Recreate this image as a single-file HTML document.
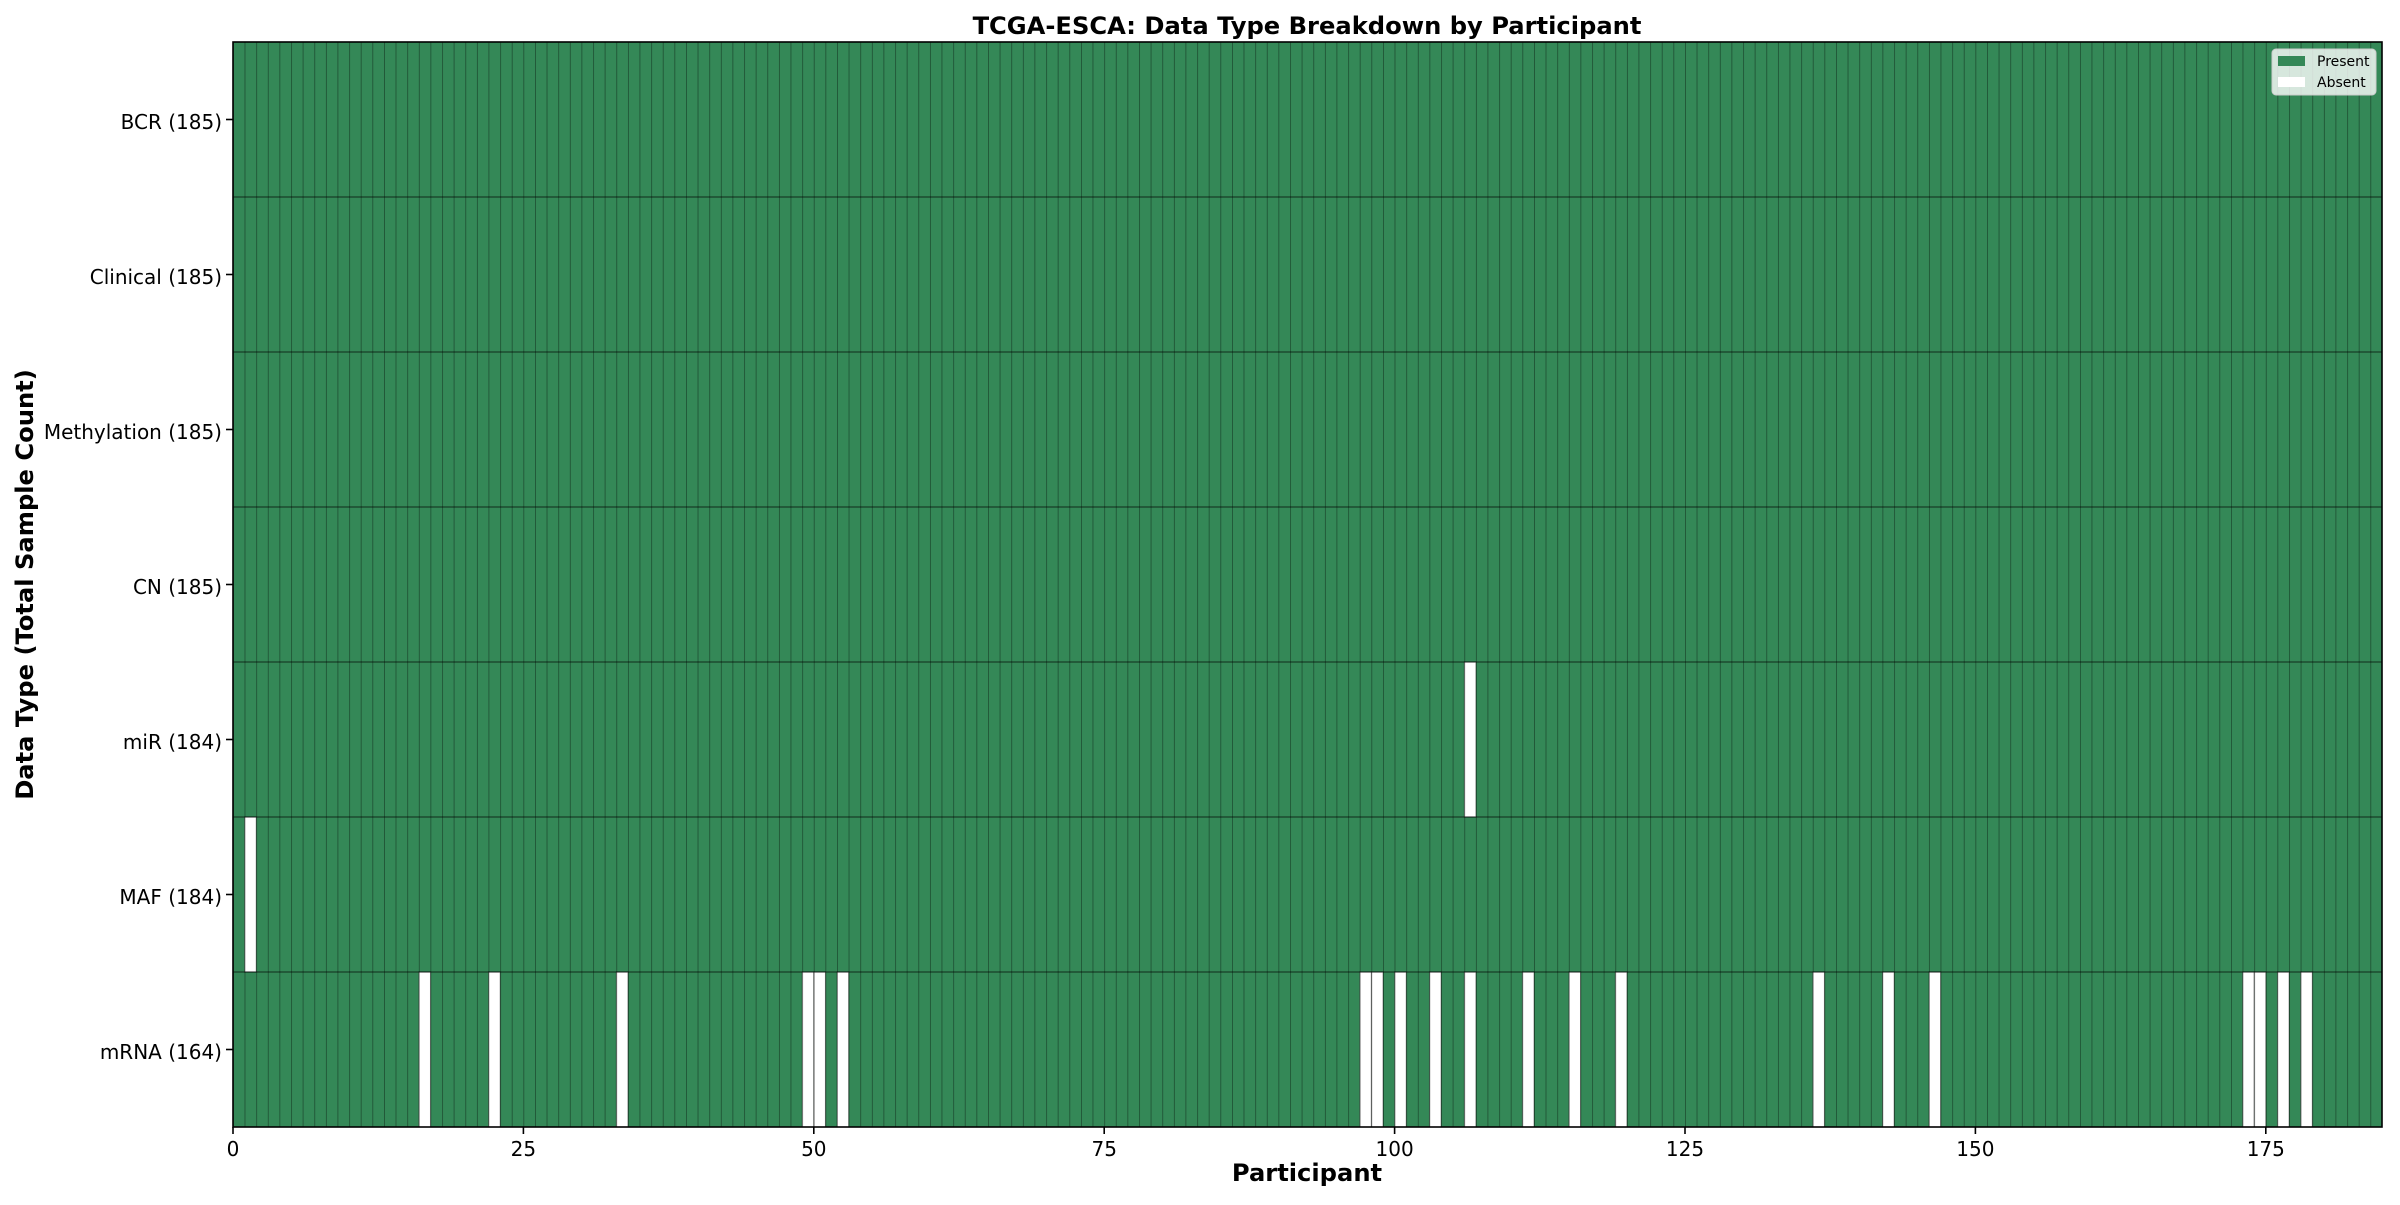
<!DOCTYPE html>
<html><head><meta charset="utf-8"><style>html,body{margin:0;padding:0;background:#fff}</style></head>
<body>
<svg xmlns="http://www.w3.org/2000/svg" width="2400" height="1200" viewBox="0 0 2400 1200" font-family="'DejaVu Sans','Liberation Sans',sans-serif">
<defs>
<pattern id="vl" patternUnits="userSpaceOnUse" x="233" y="0" width="11.6162" height="1200">
<line x1="0" y1="0" x2="0" y2="1200" stroke="rgba(0,0,0,0.45)" stroke-width="1.5"/>
</pattern>
</defs>
<rect x="233" y="42" width="2149" height="1085" fill="#348857"/>
<g fill="#fff" id="abs"></g>
<script>
(function(){
var u=2149/185,h=155,g=document.getElementById('abs');
var d=[[4,106],[5,1]];
[16,22,33,49,50,52,97,98,100,103,106,111,115,119,136,142,146,173,174,176,178].forEach(function(i){d.push([6,i]);});
d.forEach(function(p){var r=document.createElementNS('http://www.w3.org/2000/svg','rect');
r.setAttribute('x',233+p[1]*u);r.setAttribute('y',42+p[0]*h);r.setAttribute('width',u);r.setAttribute('height',h);
r.setAttribute('fill','#fff');r.setAttribute('stroke','rgba(0,0,0,0.4)');r.setAttribute('stroke-width','1');g.appendChild(r);});
})();
</script>
<rect x="233" y="42" width="2149" height="1085" fill="url(#vl)"/>
<g stroke="rgba(0,0,0,0.45)" stroke-width="1.5">
<line x1="233" x2="2382" y1="197" y2="197"/><line x1="233" x2="2382" y1="352" y2="352"/>
<line x1="233" x2="2382" y1="507" y2="507"/><line x1="233" x2="2382" y1="662" y2="662"/>
<line x1="233" x2="2382" y1="817" y2="817"/><line x1="233" x2="2382" y1="972" y2="972"/>
</g>
<rect x="233" y="42" width="2149" height="1085" fill="none" stroke="#000" stroke-width="1.6"/>
<g stroke="#000" stroke-width="1.6">
<line x1="226" x2="233" y1="119.5" y2="119.5"/><line x1="226" x2="233" y1="274.5" y2="274.5"/>
<line x1="226" x2="233" y1="429.5" y2="429.5"/><line x1="226" x2="233" y1="584.5" y2="584.5"/>
<line x1="226" x2="233" y1="739.5" y2="739.5"/><line x1="226" x2="233" y1="894.5" y2="894.5"/>
<line x1="226" x2="233" y1="1049.5" y2="1049.5"/>
<line x1="233" x2="233" y1="1127" y2="1134"/><line x1="523.4" x2="523.4" y1="1127" y2="1134"/>
<line x1="813.8" x2="813.8" y1="1127" y2="1134"/><line x1="1104.2" x2="1104.2" y1="1127" y2="1134"/>
<line x1="1394.6" x2="1394.6" y1="1127" y2="1134"/><line x1="1685" x2="1685" y1="1127" y2="1134"/>
<line x1="1975.4" x2="1975.4" y1="1127" y2="1134"/><line x1="2265.8" x2="2265.8" y1="1127" y2="1134"/>
</g>
<g font-size="20" text-anchor="end" fill="#000">
<text x="222" y="129">BCR (185)</text><text x="222" y="284">Clinical (185)</text>
<text x="222" y="439">Methylation (185)</text><text x="222" y="594">CN (185)</text>
<text x="222" y="749">miR (184)</text><text x="222" y="904">MAF (184)</text>
<text x="222" y="1059">mRNA (164)</text>
</g>
<g font-size="20" text-anchor="middle" fill="#000">
<text x="233" y="1156">0</text><text x="523.4" y="1156">25</text><text x="813.8" y="1156">50</text>
<text x="1104.2" y="1156">75</text><text x="1394.6" y="1156">100</text><text x="1685" y="1156">125</text>
<text x="1975.4" y="1156">150</text><text x="2265.8" y="1156">175</text>
</g>
<text x="1307" y="34" font-size="24.2" font-weight="bold" text-anchor="middle">TCGA-ESCA: Data Type Breakdown by Participant</text>
<text x="1307" y="1181" font-size="24.2" font-weight="bold" text-anchor="middle">Participant</text>
<text transform="translate(33,584.5) rotate(-90)" font-size="24.2" font-weight="bold" text-anchor="middle">Data Type (Total Sample Count)</text>
<rect x="2272" y="49" width="104" height="46" rx="4" fill="rgba(255,255,255,0.8)" stroke="#ccc" stroke-width="1"/>
<rect x="2278" y="56" width="27" height="10" fill="#348857"/>
<rect x="2278" y="77" width="27" height="10" fill="#fff"/>
<g font-size="14" fill="#000"><text x="2317" y="66">Present</text><text x="2317" y="87">Absent</text></g>
</svg>
</body></html>
